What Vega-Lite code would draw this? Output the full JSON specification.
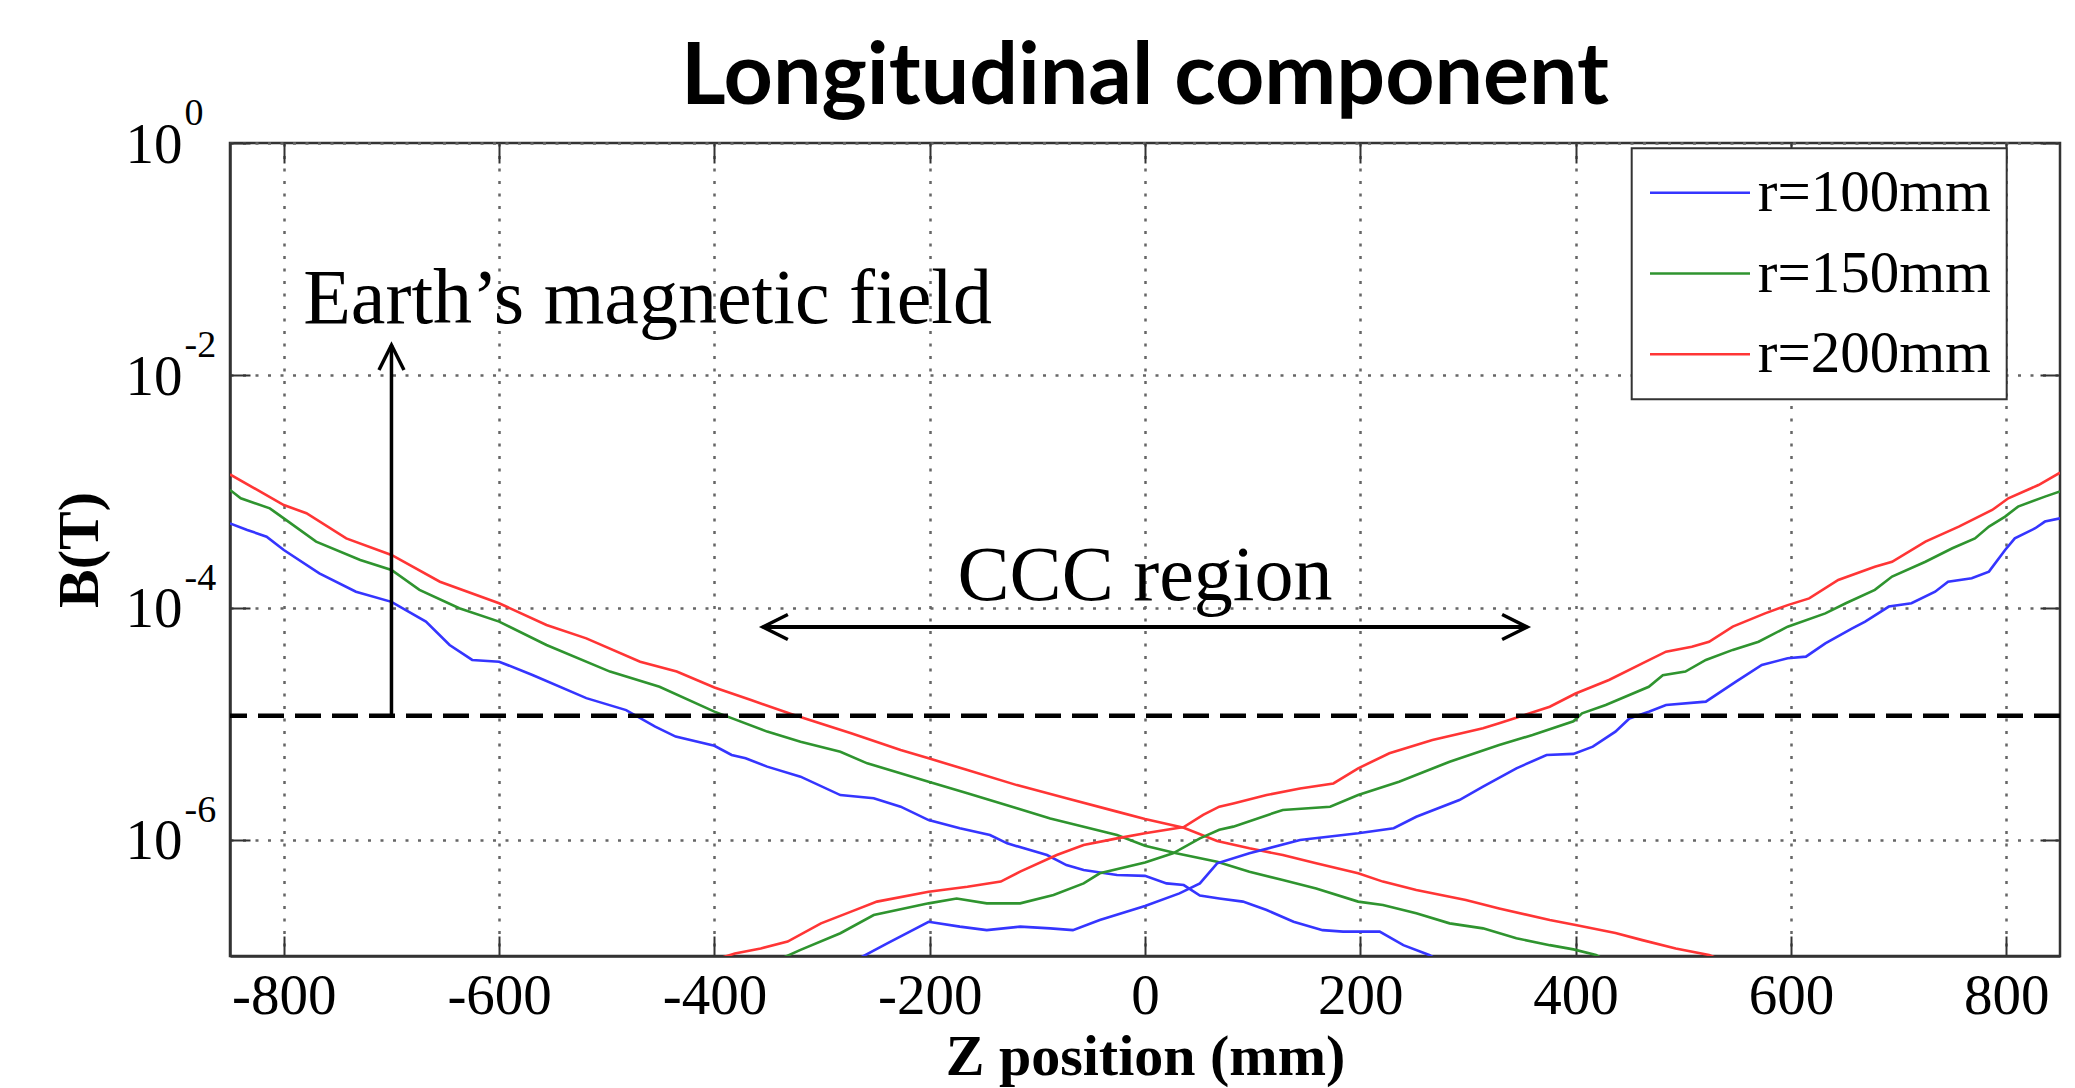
{
  "$schema": "https://vega.github.io/schema/vega-lite/v6.json",
  "width": 1830,
  "height": 813,
  "autosize": {"type": "none"},
  "padding": {"left": 230, "top": 143, "right": 15, "bottom": 132},
  "background": "white",
  "title": {"text": "Longitudinal component", "font": "Lato", "fontWeight": "bold", "fontSize": 86, "color": "black", "anchor": "middle", "baseline": "alphabetic", "offset": -95},
  "config": {
    "view": {"stroke": "#333", "strokeWidth": 2.5},
    "axis": {"domainColor": "#333", "domainWidth": 2.5, "tickColor": "#333", "tickWidth": 2, "labelColor": "black", "labelFont": "Liberation Serif", "titleFont": "Liberation Serif", "titleColor": "black", "gridColor": "#666", "gridWidth": 2.5, "gridDash": [3, 9.5], "gridOpacity": 1, "labelFlush": false, "labelOverlap": false, "labelBound": false},
    "legend": {"strokeWidth": 2}
  },
  "resolve": {"axis": {"x": "independent", "y": "independent"}},
  "layer": [
    {
      "data": {"values": [
        {"z":-850,"B":1.40e-3,"r":"r=200mm","s":"d"},{"z":-800,"B":7.64e-4,"r":"r=200mm","s":"d"},{"z":-779,"B":6.49e-4,"r":"r=200mm","s":"d"},{"z":-742,"B":3.94e-4,"r":"r=200mm","s":"d"},{"z":-700,"B":2.84e-4,"r":"r=200mm","s":"d"},{"z":-655,"B":1.67e-4,"r":"r=200mm","s":"d"},{"z":-600,"B":1.09e-4,"r":"r=200mm","s":"d"},{"z":-556,"B":7.08e-5,"r":"r=200mm","s":"d"},{"z":-519,"B":5.43e-5,"r":"r=200mm","s":"d"},{"z":-469,"B":3.42e-5,"r":"r=200mm","s":"d"},{"z":-435,"B":2.81e-5,"r":"r=200mm","s":"d"},{"z":-400,"B":2.05e-5,"r":"r=200mm","s":"d"},{"z":-366,"B":1.60e-5,"r":"r=200mm","s":"d"},{"z":-326,"B":1.19e-5,"r":"r=200mm","s":"d"},{"z":-273,"B":8.26e-6,"r":"r=200mm","s":"d"},{"z":-227,"B":5.94e-6,"r":"r=200mm","s":"d"},{"z":-201,"B":5.04e-6,"r":"r=200mm","s":"d"},{"z":-165,"B":3.99e-6,"r":"r=200mm","s":"d"},{"z":-119,"B":2.96e-6,"r":"r=200mm","s":"d"},{"z":-73,"B":2.28e-6,"r":"r=200mm","s":"d"},{"z":-26,"B":1.75e-6,"r":"r=200mm","s":"d"},{"z":0,"B":1.51e-6,"r":"r=200mm","s":"d"},{"z":36,"B":1.27e-6,"r":"r=200mm","s":"d"},{"z":67,"B":9.77e-7,"r":"r=200mm","s":"d"},{"z":97,"B":8.45e-7,"r":"r=200mm","s":"d"},{"z":128,"B":7.40e-7,"r":"r=200mm","s":"d"},{"z":159,"B":6.28e-7,"r":"r=200mm","s":"d"},{"z":198,"B":5.15e-7,"r":"r=200mm","s":"d"},{"z":221,"B":4.37e-7,"r":"r=200mm","s":"d"},{"z":252,"B":3.70e-7,"r":"r=200mm","s":"d"},{"z":298,"B":3.03e-7,"r":"r=200mm","s":"d"},{"z":329,"B":2.57e-7,"r":"r=200mm","s":"d"},{"z":376,"B":2.04e-7,"r":"r=200mm","s":"d"},{"z":400,"B":1.85e-7,"r":"r=200mm","s":"d"},{"z":437,"B":1.58e-7,"r":"r=200mm","s":"d"},{"z":462,"B":1.37e-7,"r":"r=200mm","s":"d"},{"z":493,"B":1.16e-7,"r":"r=200mm","s":"d"},{"z":524,"B":1.02e-7,"r":"r=200mm","s":"d"},{"z":532,"B":9.5e-8,"r":"r=200mm","s":"d"},
        {"z":-850,"B":1.03e-3,"r":"r=150mm","s":"d"},{"z":-840,"B":8.73e-4,"r":"r=150mm","s":"d"},{"z":-813,"B":7.15e-4,"r":"r=150mm","s":"d"},{"z":-800,"B":5.86e-4,"r":"r=150mm","s":"d"},{"z":-770,"B":3.70e-4,"r":"r=150mm","s":"d"},{"z":-729,"B":2.57e-4,"r":"r=150mm","s":"d"},{"z":-700,"B":2.11e-4,"r":"r=150mm","s":"d"},{"z":-674,"B":1.42e-4,"r":"r=150mm","s":"d"},{"z":-637,"B":9.86e-5,"r":"r=150mm","s":"d"},{"z":-600,"B":7.57e-5,"r":"r=150mm","s":"d"},{"z":-556,"B":4.76e-5,"r":"r=150mm","s":"d"},{"z":-497,"B":2.81e-5,"r":"r=150mm","s":"d"},{"z":-451,"B":2.08e-5,"r":"r=150mm","s":"d"},{"z":-400,"B":1.27e-5,"r":"r=150mm","s":"d"},{"z":-351,"B":8.55e-6,"r":"r=150mm","s":"d"},{"z":-320,"B":7.00e-6,"r":"r=150mm","s":"d"},{"z":-283,"B":5.74e-6,"r":"r=150mm","s":"d"},{"z":-258,"B":4.56e-6,"r":"r=150mm","s":"d"},{"z":-201,"B":3.17e-6,"r":"r=150mm","s":"d"},{"z":-165,"B":2.52e-6,"r":"r=150mm","s":"d"},{"z":-119,"B":1.87e-6,"r":"r=150mm","s":"d"},{"z":-88,"B":1.53e-6,"r":"r=150mm","s":"d"},{"z":-26,"B":1.10e-6,"r":"r=150mm","s":"d"},{"z":0,"B":8.91e-7,"r":"r=150mm","s":"d"},{"z":29,"B":7.66e-7,"r":"r=150mm","s":"d"},{"z":67,"B":6.49e-7,"r":"r=150mm","s":"d"},{"z":97,"B":5.32e-7,"r":"r=150mm","s":"d"},{"z":128,"B":4.51e-7,"r":"r=150mm","s":"d"},{"z":159,"B":3.82e-7,"r":"r=150mm","s":"d"},{"z":198,"B":2.94e-7,"r":"r=150mm","s":"d"},{"z":221,"B":2.75e-7,"r":"r=150mm","s":"d"},{"z":252,"B":2.33e-7,"r":"r=150mm","s":"d"},{"z":283,"B":1.91e-7,"r":"r=150mm","s":"d"},{"z":314,"B":1.73e-7,"r":"r=150mm","s":"d"},{"z":345,"B":1.42e-7,"r":"r=150mm","s":"d"},{"z":376,"B":1.24e-7,"r":"r=150mm","s":"d"},{"z":398,"B":1.14e-7,"r":"r=150mm","s":"d"},{"z":419,"B":1.02e-7,"r":"r=150mm","s":"d"},{"z":425,"B":9.5e-8,"r":"r=150mm","s":"d"},
        {"z":-850,"B":5.31e-4,"r":"r=100mm","s":"d"},{"z":-834,"B":4.66e-4,"r":"r=100mm","s":"d"},{"z":-816,"B":4.08e-4,"r":"r=100mm","s":"d"},{"z":-800,"B":3.13e-4,"r":"r=100mm","s":"d"},{"z":-767,"B":1.97e-4,"r":"r=100mm","s":"d"},{"z":-733,"B":1.37e-4,"r":"r=100mm","s":"d"},{"z":-700,"B":1.12e-4,"r":"r=100mm","s":"d"},{"z":-668,"B":7.57e-5,"r":"r=100mm","s":"d"},{"z":-646,"B":4.76e-5,"r":"r=100mm","s":"d"},{"z":-625,"B":3.54e-5,"r":"r=100mm","s":"d"},{"z":-600,"B":3.42e-5,"r":"r=100mm","s":"d"},{"z":-569,"B":2.63e-5,"r":"r=100mm","s":"d"},{"z":-519,"B":1.66e-5,"r":"r=100mm","s":"d"},{"z":-482,"B":1.31e-5,"r":"r=100mm","s":"d"},{"z":-455,"B":9.44e-6,"r":"r=100mm","s":"d"},{"z":-436,"B":7.74e-6,"r":"r=100mm","s":"d"},{"z":-400,"B":6.46e-6,"r":"r=100mm","s":"d"},{"z":-384,"B":5.38e-6,"r":"r=100mm","s":"d"},{"z":-371,"B":5.04e-6,"r":"r=100mm","s":"d"},{"z":-351,"B":4.27e-6,"r":"r=100mm","s":"d"},{"z":-320,"B":3.50e-6,"r":"r=100mm","s":"d"},{"z":-283,"B":2.43e-6,"r":"r=100mm","s":"d"},{"z":-252,"B":2.28e-6,"r":"r=100mm","s":"d"},{"z":-227,"B":1.93e-6,"r":"r=100mm","s":"d"},{"z":-201,"B":1.48e-6,"r":"r=100mm","s":"d"},{"z":-172,"B":1.26e-6,"r":"r=100mm","s":"d"},{"z":-144,"B":1.10e-6,"r":"r=100mm","s":"d"},{"z":-128,"B":9.33e-7,"r":"r=100mm","s":"d"},{"z":-91,"B":7.40e-7,"r":"r=100mm","s":"d"},{"z":-73,"B":6.07e-7,"r":"r=100mm","s":"d"},{"z":-57,"B":5.50e-7,"r":"r=100mm","s":"d"},{"z":-26,"B":4.98e-7,"r":"r=100mm","s":"d"},{"z":0,"B":4.90e-7,"r":"r=100mm","s":"d"},{"z":20,"B":4.22e-7,"r":"r=100mm","s":"d"},{"z":36,"B":4.08e-7,"r":"r=100mm","s":"d"},{"z":51,"B":3.31e-7,"r":"r=100mm","s":"d"},{"z":69,"B":3.13e-7,"r":"r=100mm","s":"d"},{"z":91,"B":2.94e-7,"r":"r=100mm","s":"d"},{"z":113,"B":2.49e-7,"r":"r=100mm","s":"d"},{"z":138,"B":1.97e-7,"r":"r=100mm","s":"d"},{"z":165,"B":1.67e-7,"r":"r=100mm","s":"d"},{"z":184,"B":1.62e-7,"r":"r=100mm","s":"d"},{"z":218,"B":1.62e-7,"r":"r=100mm","s":"d"},{"z":240,"B":1.24e-7,"r":"r=100mm","s":"d"},{"z":264,"B":1.02e-7,"r":"r=100mm","s":"d"},{"z":270,"B":9.5e-8,"r":"r=100mm","s":"d"},
        {"z":-396,"B":9.5e-8,"r":"r=200mm","s":"a"},{"z":-381,"B":1.05e-7,"r":"r=200mm","s":"a"},{"z":-357,"B":1.16e-7,"r":"r=200mm","s":"a"},{"z":-332,"B":1.33e-7,"r":"r=200mm","s":"a"},{"z":-301,"B":1.91e-7,"r":"r=200mm","s":"a"},{"z":-273,"B":2.41e-7,"r":"r=200mm","s":"a"},{"z":-249,"B":2.94e-7,"r":"r=200mm","s":"a"},{"z":-201,"B":3.58e-7,"r":"r=200mm","s":"a"},{"z":-165,"B":3.95e-7,"r":"r=200mm","s":"a"},{"z":-134,"B":4.37e-7,"r":"r=200mm","s":"a"},{"z":-116,"B":5.32e-7,"r":"r=200mm","s":"a"},{"z":-82,"B":7.40e-7,"r":"r=200mm","s":"a"},{"z":-57,"B":9.02e-7,"r":"r=200mm","s":"a"},{"z":-26,"B":1.03e-6,"r":"r=200mm","s":"a"},{"z":0,"B":1.14e-6,"r":"r=200mm","s":"a"},{"z":36,"B":1.29e-6,"r":"r=200mm","s":"a"},{"z":54,"B":1.64e-6,"r":"r=200mm","s":"a"},{"z":69,"B":1.93e-6,"r":"r=200mm","s":"a"},{"z":82,"B":2.06e-6,"r":"r=200mm","s":"a"},{"z":113,"B":2.43e-6,"r":"r=200mm","s":"a"},{"z":144,"B":2.77e-6,"r":"r=200mm","s":"a"},{"z":175,"B":3.06e-6,"r":"r=200mm","s":"a"},{"z":198,"B":4.13e-6,"r":"r=200mm","s":"a"},{"z":227,"B":5.56e-6,"r":"r=200mm","s":"a"},{"z":267,"B":7.24e-6,"r":"r=200mm","s":"a"},{"z":314,"B":9.12e-6,"r":"r=200mm","s":"a"},{"z":329,"B":1.007e-5,"r":"r=200mm","s":"a"},{"z":376,"B":1.40e-5,"r":"r=200mm","s":"a"},{"z":400,"B":1.82e-5,"r":"r=200mm","s":"a"},{"z":431,"B":2.38e-5,"r":"r=200mm","s":"a"},{"z":462,"B":3.31e-5,"r":"r=200mm","s":"a"},{"z":484,"B":4.17e-5,"r":"r=200mm","s":"a"},{"z":508,"B":4.60e-5,"r":"r=200mm","s":"a"},{"z":524,"B":5.08e-5,"r":"r=200mm","s":"a"},{"z":546,"B":6.85e-5,"r":"r=200mm","s":"a"},{"z":576,"B":8.91e-5,"r":"r=200mm","s":"a"},{"z":597,"B":1.05e-4,"r":"r=200mm","s":"a"},{"z":617,"B":1.20e-4,"r":"r=200mm","s":"a"},{"z":644,"B":1.73e-4,"r":"r=200mm","s":"a"},{"z":678,"B":2.25e-4,"r":"r=200mm","s":"a"},{"z":694,"B":2.48e-4,"r":"r=200mm","s":"a"},{"z":725,"B":3.70e-4,"r":"r=200mm","s":"a"},{"z":756,"B":4.98e-4,"r":"r=200mm","s":"a"},{"z":787,"B":6.92e-4,"r":"r=200mm","s":"a"},{"z":802,"B":8.73e-4,"r":"r=200mm","s":"a"},{"z":830,"B":1.135e-3,"r":"r=200mm","s":"a"},{"z":850,"B":1.45e-3,"r":"r=200mm","s":"a"},
        {"z":-338,"B":9.5e-8,"r":"r=150mm","s":"a"},{"z":-320,"B":1.13e-7,"r":"r=150mm","s":"a"},{"z":-283,"B":1.57e-7,"r":"r=150mm","s":"a"},{"z":-252,"B":2.25e-7,"r":"r=150mm","s":"a"},{"z":-201,"B":2.84e-7,"r":"r=150mm","s":"a"},{"z":-175,"B":3.13e-7,"r":"r=150mm","s":"a"},{"z":-147,"B":2.84e-7,"r":"r=150mm","s":"a"},{"z":-116,"B":2.84e-7,"r":"r=150mm","s":"a"},{"z":-85,"B":3.35e-7,"r":"r=150mm","s":"a"},{"z":-57,"B":4.22e-7,"r":"r=150mm","s":"a"},{"z":-42,"B":5.15e-7,"r":"r=150mm","s":"a"},{"z":0,"B":6.38e-7,"r":"r=150mm","s":"a"},{"z":26,"B":7.66e-7,"r":"r=150mm","s":"a"},{"z":51,"B":1.03e-6,"r":"r=150mm","s":"a"},{"z":69,"B":1.22e-6,"r":"r=150mm","s":"a"},{"z":82,"B":1.30e-6,"r":"r=150mm","s":"a"},{"z":128,"B":1.81e-6,"r":"r=150mm","s":"a"},{"z":172,"B":1.93e-6,"r":"r=150mm","s":"a"},{"z":198,"B":2.43e-6,"r":"r=150mm","s":"a"},{"z":236,"B":3.17e-6,"r":"r=150mm","s":"a"},{"z":283,"B":4.71e-6,"r":"r=150mm","s":"a"},{"z":329,"B":6.56e-6,"r":"r=150mm","s":"a"},{"z":360,"B":8.00e-6,"r":"r=150mm","s":"a"},{"z":398,"B":1.05e-5,"r":"r=150mm","s":"a"},{"z":406,"B":1.23e-5,"r":"r=150mm","s":"a"},{"z":428,"B":1.45e-5,"r":"r=150mm","s":"a"},{"z":468,"B":2.08e-5,"r":"r=150mm","s":"a"},{"z":481,"B":2.62e-5,"r":"r=150mm","s":"a"},{"z":502,"B":2.81e-5,"r":"r=150mm","s":"a"},{"z":521,"B":3.54e-5,"r":"r=150mm","s":"a"},{"z":546,"B":4.32e-5,"r":"r=150mm","s":"a"},{"z":570,"B":5.08e-5,"r":"r=150mm","s":"a"},{"z":597,"B":6.85e-5,"r":"r=150mm","s":"a"},{"z":632,"B":8.91e-5,"r":"r=150mm","s":"a"},{"z":651,"B":1.09e-4,"r":"r=150mm","s":"a"},{"z":678,"B":1.42e-4,"r":"r=150mm","s":"a"},{"z":694,"B":1.85e-4,"r":"r=150mm","s":"a"},{"z":725,"B":2.48e-4,"r":"r=150mm","s":"a"},{"z":750,"B":3.24e-4,"r":"r=150mm","s":"a"},{"z":771,"B":3.94e-4,"r":"r=150mm","s":"a"},{"z":784,"B":4.98e-4,"r":"r=150mm","s":"a"},{"z":799,"B":6.07e-4,"r":"r=150mm","s":"a"},{"z":811,"B":7.40e-4,"r":"r=150mm","s":"a"},{"z":836,"B":9.02e-4,"r":"r=150mm","s":"a"},{"z":850,"B":1.0e-3,"r":"r=150mm","s":"a"},
        {"z":-266,"B":9.5e-8,"r":"r=100mm","s":"a"},{"z":-239,"B":1.29e-7,"r":"r=100mm","s":"a"},{"z":-201,"B":1.97e-7,"r":"r=100mm","s":"a"},{"z":-172,"B":1.79e-7,"r":"r=100mm","s":"a"},{"z":-147,"B":1.67e-7,"r":"r=100mm","s":"a"},{"z":-116,"B":1.79e-7,"r":"r=100mm","s":"a"},{"z":-88,"B":1.73e-7,"r":"r=100mm","s":"a"},{"z":-67,"B":1.67e-7,"r":"r=100mm","s":"a"},{"z":-42,"B":2.04e-7,"r":"r=100mm","s":"a"},{"z":0,"B":2.69e-7,"r":"r=100mm","s":"a"},{"z":32,"B":3.46e-7,"r":"r=100mm","s":"a"},{"z":51,"B":4.22e-7,"r":"r=100mm","s":"a"},{"z":67,"B":6.28e-7,"r":"r=100mm","s":"a"},{"z":97,"B":7.66e-7,"r":"r=100mm","s":"a"},{"z":144,"B":9.98e-7,"r":"r=100mm","s":"a"},{"z":198,"B":1.14e-6,"r":"r=100mm","s":"a"},{"z":231,"B":1.26e-6,"r":"r=100mm","s":"a"},{"z":252,"B":1.58e-6,"r":"r=100mm","s":"a"},{"z":292,"B":2.20e-6,"r":"r=100mm","s":"a"},{"z":314,"B":2.87e-6,"r":"r=100mm","s":"a"},{"z":345,"B":4.13e-6,"r":"r=100mm","s":"a"},{"z":373,"B":5.38e-6,"r":"r=100mm","s":"a"},{"z":398,"B":5.50e-6,"r":"r=100mm","s":"a"},{"z":416,"B":6.34e-6,"r":"r=100mm","s":"a"},{"z":437,"B":8.55e-6,"r":"r=100mm","s":"a"},{"z":450,"B":1.11e-5,"r":"r=100mm","s":"a"},{"z":468,"B":1.27e-5,"r":"r=100mm","s":"a"},{"z":484,"B":1.45e-5,"r":"r=100mm","s":"a"},{"z":521,"B":1.55e-5,"r":"r=100mm","s":"a"},{"z":549,"B":2.30e-5,"r":"r=100mm","s":"a"},{"z":573,"B":3.21e-5,"r":"r=100mm","s":"a"},{"z":597,"B":3.66e-5,"r":"r=100mm","s":"a"},{"z":614,"B":3.78e-5,"r":"r=100mm","s":"a"},{"z":632,"B":4.92e-5,"r":"r=100mm","s":"a"},{"z":657,"B":6.62e-5,"r":"r=100mm","s":"a"},{"z":669,"B":7.57e-5,"r":"r=100mm","s":"a"},{"z":691,"B":1.02e-4,"r":"r=100mm","s":"a"},{"z":712,"B":1.09e-4,"r":"r=100mm","s":"a"},{"z":734,"B":1.37e-4,"r":"r=100mm","s":"a"},{"z":746,"B":1.67e-4,"r":"r=100mm","s":"a"},{"z":768,"B":1.79e-4,"r":"r=100mm","s":"a"},{"z":784,"B":2.04e-4,"r":"r=100mm","s":"a"},{"z":799,"B":3.13e-4,"r":"r=100mm","s":"a"},{"z":808,"B":3.94e-4,"r":"r=100mm","s":"a"},{"z":827,"B":4.82e-4,"r":"r=100mm","s":"a"},{"z":836,"B":5.50e-4,"r":"r=100mm","s":"a"},{"z":850,"B":5.86e-4,"r":"r=100mm","s":"a"}
      ]},
      "mark": {"type": "line", "clip": true, "strokeWidth": 2.6},
      "encoding": {
        "x": {"field": "z", "type": "quantitative", "scale": {"domain": [-850, 850], "nice": false, "zero": false},
          "axis": {"orient": "bottom", "values": [-800, -600, -400, -200, 0, 200, 400, 600, 800], "labelExpr": "'' + datum.value", "labelFontSize": 57, "labelPadding": 32.6, "labelBaseline": "top", "tickSize": -20, "grid": true, "title": "Z position (mm)", "titleFontSize": 58, "titleFontWeight": "bold", "titleX": 915, "titleY": 118, "titleBaseline": "alphabetic", "titleAlign": "center"}},
        "y": {"field": "B", "type": "quantitative", "scale": {"type": "log", "domain": [1e-7, 1], "nice": false},
          "axis": {"orient": "left", "values": [1e-6, 1e-4, 0.01, 1], "labelExpr": "'10'", "labelFontSize": 57, "labelPadding": 68, "labelBaseline": "middle", "labelOffset": 2, "tickSize": -20, "grid": true, "title": "B(T)", "titleFontSize": 58, "titleFontWeight": "bold", "titleX": -150, "titleY": 406.5, "titleAngle": 270, "titleAlign": "center", "titleBaseline": "middle"}},
        "color": {"field": "r", "type": "nominal",
          "scale": {"domain": ["r=100mm", "r=150mm", "r=200mm"], "range": ["#3535ff", "#2f942f", "#ff3535"]},
          "legend": {"orient": "none", "legendX": 1401.7, "legendY": 5.3, "title": null, "symbolType": "M -2 0 L 2 0", "symbolSize": 2500, "symbolStrokeWidth": 2.6, "symbolOffset": 23.8, "labelOffset": 28.3, "labelFont": "Liberation Serif", "labelFontSize": 59, "labelColor": "black", "labelBaseline": "middle", "labelLimit": 500, "rowPadding": 20.7, "padding": 15, "strokeColor": "#333", "fillColor": "white"}},
        "detail": {"field": "s", "type": "nominal"}
      }
    },
    {
      "data": {"values": [{"B": 1.17e-5}]},
      "mark": {"type": "rule", "color": "black", "strokeWidth": 4.5, "strokeDash": [26, 11]},
      "encoding": {"y": {"field": "B", "type": "quantitative", "scale": {"type": "log", "domain": [1e-7, 1], "nice": false}, "axis": null}}
    },
    {
      "data": {"values": [{"z": -700, "B": 1.17e-5, "B2": 0.0182}]},
      "mark": {"type": "rule", "color": "black", "strokeWidth": 3.5},
      "encoding": {
        "x": {"field": "z", "type": "quantitative", "scale": {"domain": [-850, 850], "nice": false, "zero": false},
          "axis": {"orient": "top", "values": [-800, -600, -400, -200, 0, 200, 400, 600, 800], "labels": false, "domain": false, "grid": false, "tickSize": -20, "title": null}},
        "y": {"field": "B", "type": "quantitative", "scale": {"type": "log", "domain": [1e-7, 1], "nice": false},
          "axis": {"orient": "right", "values": [1e-6, 1e-4, 0.01, 1], "labels": false, "domain": false, "grid": false, "tickSize": -20, "title": null}},
        "y2": {"field": "B2"}
      }
    },
    {
      "data": {"values": [{"z": -355, "z2": 355, "B": 6.8e-5}]},
      "mark": {"type": "rule", "color": "black", "strokeWidth": 4},
      "encoding": {
        "x": {"field": "z", "type": "quantitative", "axis": null},
        "x2": {"field": "z2"},
        "y": {"field": "B", "type": "quantitative", "axis": null}
      }
    },
    {
      "data": {"values": [{"z": -700, "B": 0.0182, "dir": "up"}, {"z": -355, "B": 6.8e-5, "dir": "left"}, {"z": 355, "B": 6.8e-5, "dir": "right"}]},
      "mark": {"type": "point", "filled": false, "size": 2500, "stroke": "black", "strokeWidth": 3.5, "opacity": 1, "strokeJoin": "miter"},
      "encoding": {
        "x": {"field": "z", "type": "quantitative", "axis": null},
        "y": {"field": "B", "type": "quantitative", "axis": null},
        "shape": {"field": "dir", "type": "nominal", "scale": {"domain": ["up", "left", "right"], "range": ["M -0.5 1 L 0 0 L 0.5 1", "M 1 -0.5 L 0 0 L 1 0.5", "M -1 -0.5 L 0 0 L -1 0.5"]}, "legend": null}
      }
    },
    {
      "data": {"values": [{"z": -782, "B": 0.0281, "label": "Earth’s magnetic field"}]},
      "mark": {"type": "text", "align": "left", "baseline": "alphabetic", "font": "Liberation Serif", "fontSize": 78, "color": "black"},
      "encoding": {
        "x": {"field": "z", "type": "quantitative", "axis": null},
        "y": {"field": "B", "type": "quantitative",
          "axis": {"orient": "left", "values": [1e-6, 1e-4, 0.01, 1], "labelExpr": "datum.value > 0.5 ? '0' : datum.value > 0.005 ? '-2' : datum.value > 0.00005 ? '-4' : '-6'", "labelFontSize": 38, "labelAlign": "left", "labelBaseline": "alphabetic", "labelPadding": 46, "labelOffset": -18.5, "ticks": false, "domain": false, "grid": false, "title": null}},
        "text": {"field": "label"}
      }
    },
    {
      "data": {"values": [{"z": 0, "B": 1.161e-4, "label": "CCC region"}]},
      "mark": {"type": "text", "align": "center", "baseline": "alphabetic", "font": "Liberation Serif", "fontSize": 78, "color": "black"},
      "encoding": {
        "x": {"field": "z", "type": "quantitative", "axis": null},
        "y": {"field": "B", "type": "quantitative", "axis": null},
        "text": {"field": "label"}
      }
    }
  ]
}
